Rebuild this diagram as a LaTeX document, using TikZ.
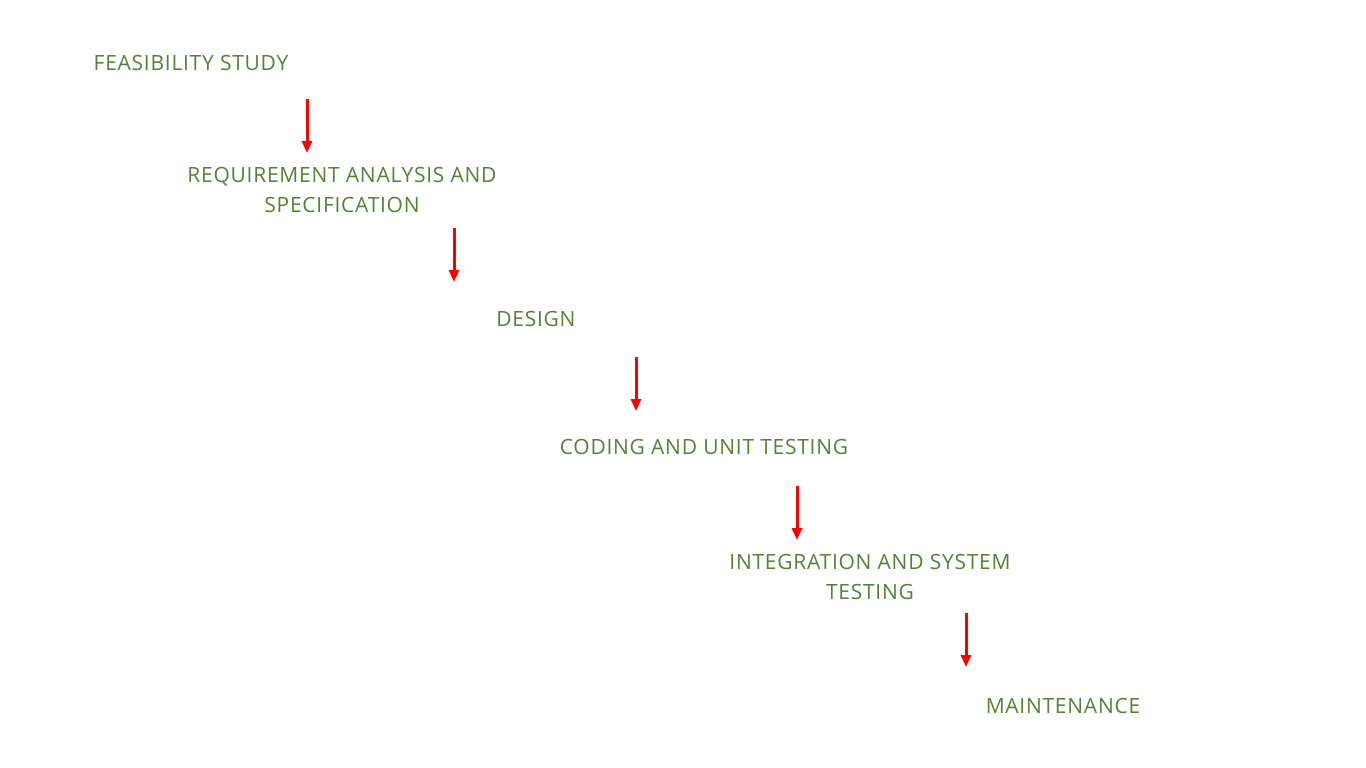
\documentclass[tikz,border=0pt]{standalone}
\usepackage{fontspec}
\setmainfont{Open Sans}[LetterSpace=3.5]
\usetikzlibrary{arrows.meta}
\definecolor{stagecolor0001}{RGB}{84,130,53}
\definecolor{stagecolor0002}{RGB}{255,0,0}

\begin{document}
\begin{tikzpicture}[yscale=-1
,stext/.style={color=stagecolor0001,align=center,font={\fontsize{21pt}{30pt}\selectfont},inner sep=0pt}
,sarrow/.style={color=stagecolor0002,line width=3pt,-{Triangle[width=10pt,length=12pt]}}
]
\useasboundingbox (0pt,0pt) rectangle (1366pt,768pt);
\node[stext] (feas) at (191pt,63pt) {FEASIBILITY STUDY};
\node[stext] (req) at (342pt,190pt) {REQUIREMENT ANALYSIS AND\\SPECIFICATION};
\node[stext] (des) at (536pt,319pt) {DESIGN};
\node[stext] (cod) at (704pt,447pt) {CODING AND UNIT TESTING};
\node[stext] (int) at (870pt,576.5pt) {INTEGRATION AND SYSTEM\\TESTING};
\node[stext] (mai) at (1063pt,706pt) {MAINTENANCE};
\coordinate (a1s) at (307pt,99pt);
\coordinate (a1e) at (307pt,153pt);
\coordinate (a2s) at (454pt,228pt);
\coordinate (a2e) at (454pt,282pt);
\coordinate (a3s) at (636pt,357pt);
\coordinate (a3e) at (636pt,411pt);
\coordinate (a4s) at (797pt,486pt);
\coordinate (a4e) at (797pt,540pt);
\coordinate (a5s) at (966pt,613pt);
\coordinate (a5e) at (966pt,667pt);
\draw[sarrow] (a1s) -- (a1e);
\draw[sarrow] (a2s) -- (a2e);
\draw[sarrow] (a3s) -- (a3e);
\draw[sarrow] (a4s) -- (a4e);
\draw[sarrow] (a5s) -- (a5e);
\end{tikzpicture}
\end{document}
